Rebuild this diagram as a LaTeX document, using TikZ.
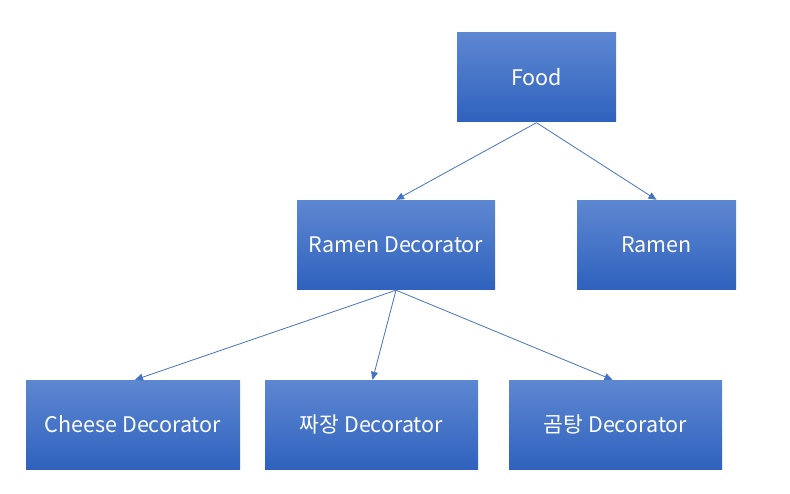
\documentclass[tikz,border=0pt]{standalone}
\usepackage{fontspec}
\setmainfont{Noto Sans CJK KR}
\usepackage{xcolor}
\usetikzlibrary{arrows.meta,positioning}
\definecolor{boxtop}{HTML}{5E87D1}
\definecolor{boxbot}{HTML}{2F62BE}
\definecolor{linkblue}{HTML}{4472C4}

\begin{document}
\begin{tikzpicture}[
    x=1pt, y=-1pt,
    font=\fontsize{21.5}{24}\selectfont,
    cls/.style={rectangle, top color=boxtop, bottom color=boxbot, draw=none,
      text=white, align=center, minimum height=89pt, inner sep=0pt},
    arrow/.style={draw=linkblue, line width=0.8pt,
      -{Triangle[length=8pt, width=7pt]}}
  ]
    \useasboundingbox (0,0) rectangle (790,493);

    \node[cls, minimum width=159pt] (food) at (536.5,77) {Food};

    \node[cls, minimum width=198pt] (rdeco) at (396,244.5) {Ramen Decorator};
    \node[cls, minimum width=159pt] (ramen) at (656.5,244.5) {Ramen};

    \node[cls, minimum width=214pt] (cheese) at (133,424.5) {Cheese Decorator};
    \node[cls, minimum width=213pt] (jjajang) at (371.5,424.5) {짜장 Decorator};
    \node[cls, minimum width=213pt] (gomtang) at (615.5,424.5) {곰탕 Decorator};

    \draw[arrow] ([yshift=-1pt]food.south) -- (rdeco.north);
    \draw[arrow] ([yshift=-1pt]food.south) -- (ramen.north);
    \draw[arrow] ([yshift=-1pt]rdeco.south) -- ([xshift=2pt]cheese.north);
    \draw[arrow] ([yshift=-1pt]rdeco.south) -- ([xshift=1pt]jjajang.north);
    \draw[arrow] ([yshift=-1pt]rdeco.south) -- ([xshift=-3pt]gomtang.north);
\end{tikzpicture}
\end{document}
